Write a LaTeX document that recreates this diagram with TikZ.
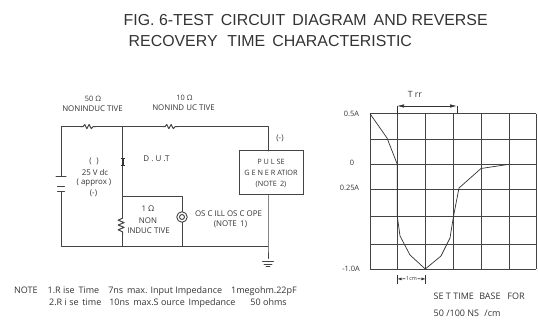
\documentclass[tikz,border=0pt]{standalone}
\usepackage{fontspec}
\setmainfont{Open Sans}
\newfontfamily\titlefont{Liberation Sans}
\usetikzlibrary{arrows.meta}
\definecolor{ink}{HTML}{333333}
\definecolor{wire}{HTML}{444444}
\tikzset{
  wirepath/.style={draw=wire,line width=1pt,line cap=round,line join=round},
  gridline/.style={draw=wire,line width=0.95pt},
  curveline/.style={draw=ink,line width=0.7pt,line join=round},
  lbl/.style={text=ink,font=\fontsize{7.9}{9}\selectfont,inner sep=0pt,align=center},
  smalllbl/.style={text=ink,font=\fontsize{7.4}{9}\selectfont,inner sep=0pt,align=center},
  notelbl/.style={text=ink,font=\fontsize{9}{10}\selectfont,inner sep=0pt,anchor=west},
  titlelbl/.style={text=ink,font=\titlefont\fontsize{15.9}{20}\selectfont,inner sep=0pt,anchor=west},
  dim/.style={draw=ink,line width=0.7pt,{Latex[length=7pt,width=3.5pt]}-{Latex[length=7pt,width=3.5pt]}},
  dimsmall/.style={draw=ink,line width=0.6pt},
  pulsebox/.style={draw=wire,line width=1pt,minimum width=64pt,minimum height=44pt,inner sep=0pt,align=center,text=ink,font=\fontsize{7.3}{11}\selectfont},
  scopeout/.style={circle,draw=wire,line width=0.9pt,minimum size=10.5pt,inner sep=0pt,fill=white},
  scopein/.style={circle,draw=wire,line width=0.9pt,minimum size=5pt,inner sep=0pt}
}
\begin{document}
\begin{tikzpicture}[x=1pt,y=-1pt]
\useasboundingbox (0,0) rectangle (538,320);
% title
\node[titlelbl] (t1) at (123.5,20.5) {FIG. 6-TEST\, CIRCUIT\, DIAGRAM\, AND REVERSE};
\node[titlelbl] (t2) at (128.5,41) {RECOVERY\, \,TIME\, CHARACTERISTIC};
% circuit nodes
\coordinate (tl) at (61,126.7);
\coordinate (r1a) at (80,126.7);
\coordinate (r1b) at (96,126.7);
\coordinate (j1) at (122.7,126.7);
\coordinate (r2a) at (163,126.7);
\coordinate (r2b) at (178,126.7);
\coordinate (tr) at (268,126.7);
\node[pulsebox] (pg) at (271,173) {P U L SE\\G E N E R ATIOR\\(NOTE\, 2)};
\coordinate (pgt) at (268,151);
\coordinate (pgb) at (268,195);
\coordinate (j2) at (268,246.7);
\coordinate (gnd) at (268,258.5);
\coordinate (bl) at (61,246.7);
\coordinate (bt) at (61,176.7);
\coordinate (bb) at (61,192);
\coordinate (j3) at (122.7,196.7);
\coordinate (j4) at (182,196.7);
\coordinate (rv1) at (122.7,218);
\coordinate (rv2) at (122.7,235);
\coordinate (j5) at (122.7,246.7);
\coordinate (j6) at (182,246.7);
% wires
\draw[wirepath] (bt) -- (tl) -- (r1a);
\draw[wirepath] (r1a) -- ++(3,0) -- ++(1.7,-2.2) -- ++(2.2,4.2) -- ++(2.2,-4.2) -- ++(2.2,4.2) -- ++(1.7,-2) -- (r1b);
\draw[wirepath] (r1b) -- (j1) -- (r2a);
\draw[wirepath] (r2a) -- ++(2,0) -- ++(1.7,-2.2) -- ++(2.2,4.2) -- ++(2.2,-4.2) -- ++(2.2,4.2) -- ++(1.7,-2) -- (r2b);
\draw[wirepath] (r2b) -- (tr) -- (pgt);
\draw[wirepath] (pgb) -- (j2) -- (gnd);
\draw[wirepath] (j1) -- (j3) -- (rv1);
\draw[wirepath] (rv1) -- ++(-4.5,2.2) -- ++(6,2.4) -- ++(-6,2.4) -- ++(6,2.4) -- ++(-6,2.4) -- ++(4.5,2.2) -- (rv2);
\draw[wirepath] (rv2) -- (j5);
\draw[wirepath] (j3) -- (j4) -- (j6);
\draw[wirepath] (bb) -- (bl) -- (j5) -- (j6) -- (j2);
% battery
\draw[wirepath] (56,176.7) -- (66,176.7);
\draw[wirepath] (57.5,187) -- (64.5,187);
\draw[wirepath] (57.5,192) -- (64.5,192);
% diode
\draw[draw=ink,line width=1.6pt] (122.7,158) -- (122.7,165);
\draw[draw=ink,line width=0.8pt] (120.7,158) -- (124.7,158) (120.7,165) -- (124.7,165);
% ground
\draw[wirepath,line width=0.8pt] (262.5,261.5) -- (273.5,261.5);
\draw[wirepath,line width=0.8pt] (264,264) -- (272,264);
\draw[wirepath,line width=0.8pt] (266,266.5) -- (270,266.5);
% scope connector
\node[scopeout] (so) at (182,217) {};
\node[scopein] (si) at (182,217) {};
% circuit labels
\node[smalllbl] (l1) at (93,99) {50 Ω};
\node[lbl] (l2) at (92.5,109) {NONINDUC TIVE};
\node[smalllbl] (l3) at (184.5,98) {10 Ω};
\node[lbl] (l4) at (183.5,108) {NONIND UC TIVE};
\node[lbl] (l5) at (280,138.5) {(-)};
\node[lbl] (l6) at (94,161.5) {(\,\, )};
\node[lbl] (l7) at (95,173) {25 V dc};
\node[lbl] (l8) at (94,183) {( approx )};
\node[lbl] (l9) at (93.5,193) {(-)};
\node[text=ink,font=\fontsize{8}{10}\selectfont,inner sep=0pt] (dut) at (156.5,158.5) {D . U .T};
\node[lbl] (l10) at (148,208.5) {1 Ω};
\node[lbl] (l11) at (148,221) {NON};
\node[lbl] (l12) at (148.5,231) {INDUC TIVE};
\node[lbl] (l13) at (228.5,214) {OS C ILL OS C OPE};
\node[lbl] (l14) at (230.5,224) {(NOTE\, 1)};
% notes
\node[notelbl] (n1) at (14,291) {NOTE\hspace{10pt}1.R ise\, Time\hspace{9pt}7ns\, max. Input Impedance\hspace{9pt}1megohm.22pF};
\node[notelbl] (n2) at (49,303) {2.R i se\, time\hspace{8pt}10ns\, max.S ource\, Impedance\hspace{15pt}50 ohms};
% graph
\foreach \x in {370,397.3,425.3,453.3,481,509,536}
  \draw[gridline] (\x,113.7) -- (\x,269);
\foreach \y in {113.7,139,164.3,189.3,216.3,244.3,269}
  \draw[gridline] (370,\y) -- (536,\y);
\draw[curveline] (370,113.7) -- (387,138) -- (397.3,164.3) -- (397.3,216.3) -- (400,236) -- (410,255) -- (425.3,269) -- (441,256) -- (450,238) -- (453.5,216.3) -- (459,188) -- (481,168.5) -- (509,164.3);
% graph labels
\node[smalllbl] (a1) at (351.5,113.5) {0.5A};
\node[smalllbl] (a2) at (352,162.5) {0};
\node[smalllbl] (a3) at (349.5,188) {0.25A};
\node[smalllbl] (a4) at (351,269) {-1.0A};
% Trr dimension
\coordinate (tra) at (397,106);
\coordinate (trb) at (457,106);
\draw[dim] (tra) -- (trb);
\draw[dimsmall] (tra) -- (397,113.7) (trb) -- (457,113.7);
\node[text=ink,font=\fontsize{8.6}{10}\selectfont,inner sep=0pt] (trr) at (415,94.5) {T rr};
% 1cm dimension
\coordinate (ca) at (397.5,279);
\coordinate (cb) at (425.5,279);
\node[text=ink,font=\fontsize{5.4}{6}\selectfont,inner sep=0.7pt] (cm) at (411.5,278.5) {1cm};
\draw[dimsmall,-{Latex[length=4pt,width=3pt]}] (cm) -- (ca);
\draw[dimsmall,-{Latex[length=4pt,width=3pt]}] (cm) -- (cb);
\draw[dimsmall] (397.5,275) -- (397.5,284) (425.5,275) -- (425.5,284);
\node[notelbl] (s1) at (433.5,296.5) {SE T TIME\,\, BASE\,\,\, FOR};
\node[notelbl] (s2) at (433.5,313) {50 /100 NS\,\, /cm};
\end{tikzpicture}
\end{document}
